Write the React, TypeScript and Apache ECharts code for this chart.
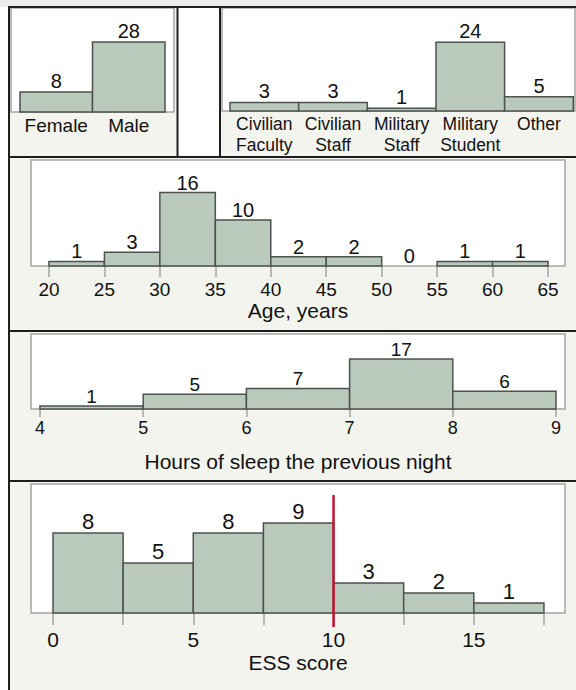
import React, { useEffect, useRef } from "react";
import * as echarts from "echarts";

// ---------- data ----------
const genderCats = ["Female", "Male"];
const genderCounts = [8, 28];

const roleCats = ["Civilian\nFaculty", "Civilian\nStaff", "Military\nStaff", "Military\nStudent", "Other"];
const roleCounts = [3, 3, 1, 24, 5];

const ageEdges = [20, 25, 30, 35, 40, 45, 50, 55, 60, 65];
const ageCounts = [1, 3, 16, 10, 2, 2, 0, 1, 1];
const ageTicks = [20, 25, 30, 35, 40, 45, 50, 55, 60, 65];

const sleepEdges = [4, 5, 6, 7, 8, 9];
const sleepCounts = [1, 5, 7, 17, 6];
const sleepTicks = [4, 5, 6, 7, 8, 9];

const essEdges = [0, 2.5, 5, 7.5, 10, 12.5, 15, 17.5];
const essCounts = [8, 5, 8, 9, 3, 2, 1];
const essTickMarks = [0, 2.5, 5, 7.5, 10, 12.5, 15, 17.5];
const essTickLabels = [0, 5, 10, 15];
const essCutoff = 10;

// ---------- styles ----------
const BAR_FILL = "#b9c9bb";
const BAR_STROKE = "#4d524e";
const FRAME = "#a4a4a4";
const PANEL_BG = "#f4f4ee";
const INK = "#111111";
const BORDER = "#1e1e1e";
const FONT = "Liberation Sans";

const toBins = (edges: number[], counts: number[]) =>
  counts.map((c, i) => [edges[i], edges[i + 1], c]);
const catEdges = (cats: string[]) => cats.map((_, i) => i).concat([cats.length]);
const catCenters = (cats: string[]) => cats.map((_, i) => i + 0.5);

const makeRender = (fontSize: number, gap: number) => (_params: any, api: any) => {
  const x0 = api.value(0);
  const x1 = api.value(1);
  const v = api.value(2);
  const b0 = api.coord([x0, 0]);
  const t1 = api.coord([x1, v]);
  const children: any[] = [];
  if (v > 0) {
    children.push({
      type: "rect",
      shape: { x: b0[0], y: t1[1], width: t1[0] - b0[0], height: b0[1] - t1[1] },
      style: { fill: BAR_FILL, stroke: BAR_STROKE, lineWidth: 1.5 },
    });
  }
  children.push({
    type: "text",
    x: (b0[0] + t1[0]) / 2,
    y: t1[1] - gap,
    style: {
      text: String(v),
      fill: INK,
      font: `${fontSize}px "${FONT}"`,
      align: "center",
      verticalAlign: "bottom",
      textAlign: "center",
      textVerticalAlign: "bottom",
    },
  });
  return { type: "group", children };
};

const gridBase = {
  show: true,
  backgroundColor: "#ffffff",
  borderColor: FRAME,
  borderWidth: 1.5,
  containLabel: false,
};

const hiddenY = (gridIndex: number, max: number) => ({
  gridIndex,
  type: "value",
  min: 0,
  max,
  show: false,
});

export default function App() {
  const ref = useRef<HTMLDivElement>(null);

  useEffect(() => {
    if (!ref.current) return;
    const chart = echarts.init(ref.current, null, { renderer: "svg" });

    const hLine = (y: number, x1: number, x2: number) => ({
      type: "line",
      z: 100,
      shape: { x1, y1: y, x2, y2: y },
      style: { stroke: BORDER, lineWidth: 2 },
    });
    const vLine = (x: number, y1: number, y2: number) => ({
      type: "line",
      z: 100,
      shape: { x1: x, y1, x2: x, y2 },
      style: { stroke: BORDER, lineWidth: 2 },
    });
    const bg = (x: number, y: number, w: number, h: number, fill: string) => ({
      type: "rect",
      z: -10,
      shape: { x, y, width: w, height: h },
      style: { fill },
    });

    const numLabel = (size: number) => ({ fontFamily: FONT, fontSize: size, color: INK });
    const axisName = { fontFamily: FONT, fontSize: 21, color: INK };
    const tickStyle = { color: FRAME, width: 1.5 };

    const option: any = {
      animation: false,
      backgroundColor: "#ffffff",
      graphic: {
        elements: [
          bg(0, 0, 576, 7, "#ececec"),
          bg(9, 7, 168, 150, PANEL_BG),
          bg(220, 7, 356, 150, PANEL_BG),
          bg(9, 157, 567, 174, PANEL_BG),
          bg(9, 331, 567, 151, PANEL_BG),
          bg(9, 481, 567, 209, PANEL_BG),
          hLine(7, 8, 576),
          hLine(157, 8, 576),
          hLine(331, 8, 576),
          hLine(481, 8, 576),
          vLine(9, 6, 690),
          vLine(177.5, 7, 157),
          vLine(220, 7, 157),
        ],
      },
      grid: [
        { ...gridBase, left: 11, top: 8, width: 163, height: 104 },
        { ...gridBase, left: 222, top: 8, width: 353, height: 103 },
        { ...gridBase, left: 31, top: 160, width: 534, height: 106 },
        { ...gridBase, left: 31, top: 334, width: 534, height: 75 },
        { ...gridBase, left: 31, top: 484, width: 534, height: 129 },
      ],
      xAxis: [
        {
          gridIndex: 0,
          type: "value",
          min: -0.124,
          max: 2.124,
          axisLine: { show: false },
          axisTick: { show: false },
          splitLine: { show: false },
          axisLabel: {
            customValues: catCenters(genderCats),
            formatter: (v: number) => genderCats[Math.floor(v)],
            margin: 4,
            fontFamily: FONT,
            fontSize: 19,
            lineHeight: 19,
            color: INK,
          },
        },
        {
          gridIndex: 1,
          type: "value",
          min: -0.1165,
          max: 5.025,
          axisLine: { show: false },
          axisTick: { show: false },
          splitLine: { show: false },
          axisLabel: {
            customValues: catCenters(roleCats),
            formatter: (v: number) => roleCats[Math.floor(v)],
            margin: 2,
            fontFamily: FONT,
            fontSize: 17.5,
            lineHeight: 21,
            color: INK,
          },
        },
        {
          gridIndex: 2,
          type: "value",
          min: 18.38,
          max: 66.53,
          axisLine: { show: false },
          splitLine: { show: false },
          axisTick: { show: true, customValues: ageTicks, length: 11, lineStyle: tickStyle },
          axisLabel: { customValues: ageTicks, margin: 14, lineHeight: 19, ...numLabel(19) },
          name: "Age, years",
          nameLocation: "middle",
          nameGap: 33,
          nameTextStyle: axisName,
        },
        {
          gridIndex: 3,
          type: "value",
          min: 3.913,
          max: 9.087,
          axisLine: { show: false },
          splitLine: { show: false },
          axisTick: { show: true, customValues: sleepTicks, length: 8, lineStyle: tickStyle },
          axisLabel: { customValues: sleepTicks, margin: 10, lineHeight: 18, ...numLabel(18) },
          name: "Hours of sleep the previous night",
          nameLocation: "middle",
          nameGap: 42,
          nameTextStyle: axisName,
        },
        {
          gridIndex: 4,
          type: "value",
          min: -0.784,
          max: 18.25,
          axisLine: { show: false },
          splitLine: { show: false },
          axisTick: { show: true, customValues: essTickMarks, length: 12, lineStyle: tickStyle },
          axisLabel: { customValues: essTickLabels, margin: 16, lineHeight: 21, ...numLabel(21) },
          name: "ESS score",
          nameLocation: "middle",
          nameGap: 39,
          nameTextStyle: axisName,
        },
      ],
      yAxis: [
        hiddenY(0, 41.6),
        hiddenY(1, 36),
        hiddenY(2, 23.1),
        hiddenY(3, 25.5),
        hiddenY(4, 12.9),
      ],
      series: [
        {
          type: "custom",
          xAxisIndex: 0,
          yAxisIndex: 0,
          renderItem: makeRender(20, 1),
          encode: { x: [0, 1], y: 2 },
          data: toBins(catEdges(genderCats), genderCounts),
        },
        {
          type: "custom",
          xAxisIndex: 1,
          yAxisIndex: 1,
          renderItem: makeRender(20, 1),
          encode: { x: [0, 1], y: 2 },
          data: toBins(catEdges(roleCats), roleCounts),
        },
        {
          type: "custom",
          xAxisIndex: 2,
          yAxisIndex: 2,
          renderItem: makeRender(20, 0),
          encode: { x: [0, 1], y: 2 },
          data: toBins(ageEdges, ageCounts),
        },
        {
          type: "custom",
          xAxisIndex: 3,
          yAxisIndex: 3,
          renderItem: makeRender(19, 0),
          encode: { x: [0, 1], y: 2 },
          data: toBins(sleepEdges, sleepCounts),
        },
        {
          type: "custom",
          xAxisIndex: 4,
          yAxisIndex: 4,
          renderItem: makeRender(22, 1),
          encode: { x: [0, 1], y: 2 },
          data: toBins(essEdges, essCounts),
        },
        {
          type: "line",
          xAxisIndex: 4,
          yAxisIndex: 4,
          data: [
            [essCutoff, 11.8],
            [essCutoff, -1.4],
          ],
          symbol: "none",
          clip: false,
          silent: true,
          z: 5,
          lineStyle: { color: "#c8102e", width: 2.5 },
        },
      ],
    };

    chart.setOption(option);
    return () => chart.dispose();
  }, []);

  return (
    <div
      ref={ref}
      style={{ position: "absolute", left: 0, top: 0, width: 576, height: 690 }}
    />
  );
}
